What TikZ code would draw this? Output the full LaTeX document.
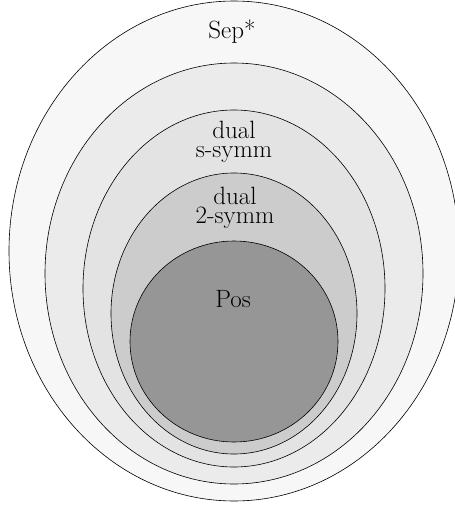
\documentclass[tikz,border=0pt]{standalone}
\usepackage{tikz}
\usetikzlibrary{positioning}

\begin{document}
\begin{tikzpicture}[x=1pt, y=-1pt,
        region/.style={draw=black, line width=0.6pt},
        setlabel/.style={align=center, anchor=base, inner sep=0pt,
            font=\fontsize{25}{18.5}\selectfont}]

        % picture frame; the outer set runs past the right edge
        \clip (0,0) rectangle (455,506);

        % nested sets, from the largest to the smallest
        \draw[region, fill=black!3]  (234,251)   ellipse [x radius=225, y radius=250];
        \draw[region, fill=black!8]  (234,273.5) ellipse [x radius=189, y radius=210.5];
        \draw[region, fill=black!11] (234,288.5) ellipse [x radius=151, y radius=178.5];
        \draw[region, fill=black!20] (234,313.5) ellipse [x radius=123, y radius=140.5];
        \draw[region, fill=black!41] (234,341.5) ellipse [x radius=104, y radius=100.5];

        % labels (base sits on the last line)
        \node[setlabel] (sep)    at (232,38)  {Sep*};
        \node[setlabel] (ssym)   at (234,157) {dual\\s-symm};
        \node[setlabel] (twosym) at (235,223) {dual\\2-symm};
        \node[setlabel] (pos)    at (233,307) {Pos};

\end{tikzpicture}
\end{document}
